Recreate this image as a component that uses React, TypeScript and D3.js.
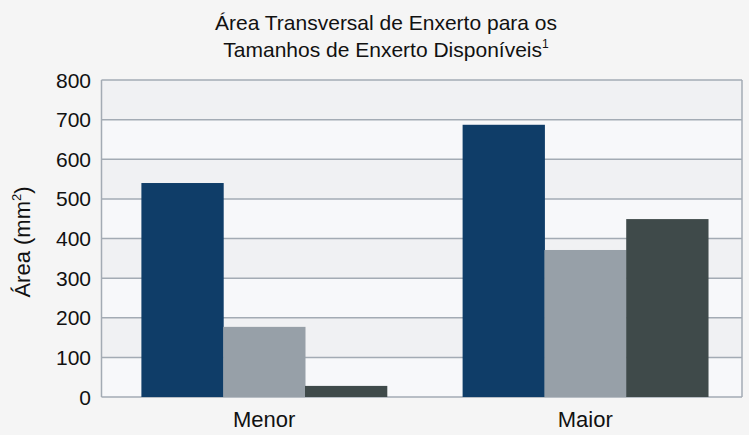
import React, { useEffect, useRef } from 'react';
import * as d3 from 'd3';

const categories = ['Menor', 'Maior'];
const seriesA = [540, 687]; // azul escuro
const seriesB = [177, 371]; // cinza claro
const seriesC = [28, 449]; // cinza escuro
const yTicks = [0, 100, 200, 300, 400, 500, 600, 700, 800];
const seriesColors = ['#0f3d68', '#97a0a8', '#3f4a4a'];

const App = () => {
  const svgRef = useRef<SVGSVGElement>(null);

  useEffect(() => {
    const width = 749;
    const height = 435;
    const left = 101.5;
    const right = 742;
    const top = 80;
    const bottom = 397;
    const font = '"Liberation Sans", Arial, sans-serif';

    const svg = d3.select(svgRef.current)
      .attr('width', width)
      .attr('height', height);
    svg.selectAll('*').remove();

    svg.append('rect')
      .attr('width', width)
      .attr('height', height)
      .attr('fill', '#f5f5f5');

    const y = d3.scaleLinear().domain([0, 800]).range([bottom, top]);
    const x0 = d3.scaleBand<string>()
      .domain(categories)
      .range([left, right])
      .paddingInner(0.236)
      .paddingOuter(0.115)
      .align(0.54);
    const keys = ['a', 'b', 'c'];
    const x1 = d3.scaleBand<string>().domain(keys).range([0, x0.bandwidth()]);

    // faixas alternadas
    for (let i = 0; i < yTicks.length - 1; i++) {
      svg.append('rect')
        .attr('x', left)
        .attr('y', y(yTicks[i + 1]))
        .attr('width', right - left)
        .attr('height', y(yTicks[i]) - y(yTicks[i + 1]))
        .attr('fill', i % 2 === 0 ? '#f7f8fa' : '#f0f1f3');
    }

    svg.append('g')
      .selectAll('line')
      .data(yTicks)
      .join('line')
      .attr('x1', left)
      .attr('x2', right)
      .attr('y1', d => y(d))
      .attr('y2', d => y(d))
      .attr('stroke', '#a3abb4')
      .attr('stroke-width', 1.5);

    [left, right].forEach(xx => {
      svg.append('line')
        .attr('x1', xx).attr('x2', xx)
        .attr('y1', top).attr('y2', bottom)
        .attr('stroke', '#a3abb4')
        .attr('stroke-width', 1.5);
    });

    const rows = categories.map((c, i) => ({
      cat: c,
      vals: [seriesA[i], seriesB[i], seriesC[i]],
    }));

    const groups = svg.append('g')
      .selectAll('g')
      .data(rows)
      .join('g')
      .attr('transform', d => `translate(${x0(d.cat)},0)`);

    groups.selectAll('rect')
      .data(d => d.vals.map((v, j) => ({ key: keys[j], v, j })))
      .join('rect')
      .attr('x', d => x1(d.key)!)
      .attr('width', x1.bandwidth() + 0.5)
      .attr('y', d => y(d.v))
      .attr('height', d => y(0) - y(d.v))
      .attr('fill', d => seriesColors[d.j]);

    svg.append('g')
      .selectAll('text')
      .data(yTicks)
      .join('text')
      .attr('x', 91)
      .attr('y', d => y(d))
      .attr('dy', '0.36em')
      .attr('text-anchor', 'end')
      .attr('font-family', font)
      .attr('font-size', 21)
      .attr('fill', '#111')
      .text(d => d);

    svg.append('g')
      .selectAll('text')
      .data(categories)
      .join('text')
      .attr('x', d => x0(d)! + x0.bandwidth() / 2)
      .attr('y', 427)
      .attr('text-anchor', 'middle')
      .attr('font-family', font)
      .attr('font-size', 22)
      .attr('fill', '#111')
      .text(d => d);

    const yl = svg.append('text')
      .attr('transform', 'translate(30,242) rotate(-90)')
      .attr('text-anchor', 'middle')
      .attr('font-family', font)
      .attr('font-size', 22)
      .attr('fill', '#111');
    yl.append('tspan').text('Área (mm');
    yl.append('tspan').attr('font-size', 13).attr('dy', -9).text('2');
    yl.append('tspan').attr('dy', 9).text(')');

    svg.append('text')
      .attr('x', 386)
      .attr('y', 30)
      .attr('text-anchor', 'middle')
      .attr('font-family', font)
      .attr('font-size', 21)
      .attr('fill', '#111')
      .text('Área Transversal de Enxerto para os');
    const t2 = svg.append('text')
      .attr('x', 386)
      .attr('y', 57)
      .attr('text-anchor', 'middle')
      .attr('font-family', font)
      .attr('font-size', 21)
      .attr('fill', '#111');
    t2.append('tspan').text('Tamanhos de Enxerto Disponíveis');
    t2.append('tspan').attr('font-size', 12).attr('dy', -9).text('1');
  }, []);

  return (
    <svg ref={svgRef} style={{ position: 'absolute', left: 0, top: 0, display: 'block' }}></svg>
  );
};

export default App;
